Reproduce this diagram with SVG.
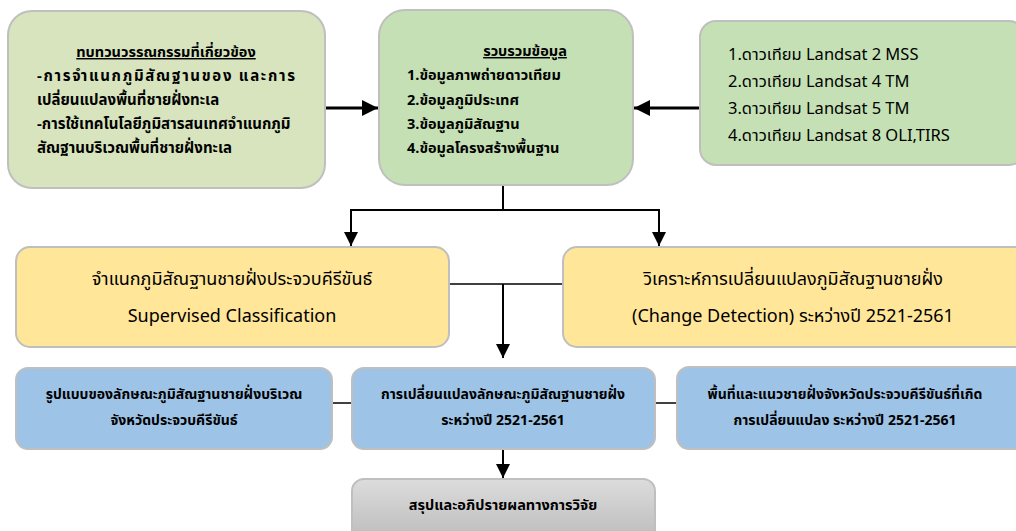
<svg xmlns="http://www.w3.org/2000/svg" width="1016" height="531" viewBox="0 0 1016 531">
<defs>
<style>
text{font-family:"Noto Sans Thai","Noto Sans","Tahoma","Liberation Sans",sans-serif;fill:#000}
.b{font-weight:bold}
.box{stroke:#bfbfbf;stroke-width:2}
.ln{fill:none;stroke:#000;stroke-width:2}
.thick{fill:none;stroke:#000;stroke-width:3}
</style>
<marker id="ah" viewBox="0 0 10 10" refX="10" refY="5" markerWidth="14" markerHeight="14" markerUnits="userSpaceOnUse" orient="auto">
<path d="M0,0 L10,5 L0,10 z" fill="#000"/>
</marker>
<marker id="ah2" viewBox="0 0 10 10" refX="10" refY="5" markerWidth="16" markerHeight="16" markerUnits="userSpaceOnUse" orient="auto">
<path d="M0,0 L10,5 L0,10 z" fill="#000"/>
</marker>
<linearGradient id="gray" x1="0" y1="0" x2="0" y2="1">
<stop offset="0" stop-color="#dcdcdc"/>
<stop offset="1" stop-color="#b8b8b8"/>
</linearGradient>
</defs>
<rect width="1016" height="531" fill="#fff"/>

<g id="connectors">
<line class="thick" x1="326" y1="108" x2="378" y2="108" marker-end="url(#ah2)"/>
<line class="thick" x1="700" y1="108" x2="634" y2="108" marker-end="url(#ah2)"/>
<polyline class="ln" points="503,186 503,210"/>
<polyline class="ln" points="351,210 659,210"/>
<line class="ln" x1="351" y1="209" x2="351" y2="246" marker-end="url(#ah)"/>
<line class="ln" x1="659" y1="209" x2="659" y2="246" marker-end="url(#ah)"/>
<line class="ln" x1="449" y1="284" x2="563" y2="284" style="stroke-width:1.5"/>
<line class="ln" x1="503" y1="284" x2="503" y2="358" marker-end="url(#ah)"/>
<line class="ln" x1="332" y1="403" x2="352" y2="403" style="stroke-width:1.5"/>
<line class="ln" x1="655" y1="403" x2="677" y2="403" style="stroke-width:1.5"/>
<line class="ln" x1="503" y1="449" x2="503" y2="478" marker-end="url(#ah)"/>
</g>

<g id="n-review">
<rect class="box" x="8" y="11" width="317" height="177" rx="24" fill="#d7e4bd"/>
<text class="b" x="166" y="57" font-size="14.5" text-anchor="middle" text-decoration="underline">ทบทวนวรรณกรรมที่เกี่ยวข้อง</text>
<text class="b" x="37" y="81" font-size="15" textLength="258" lengthAdjust="spacing">-การจำแนกภูมิสัณฐานของ และการ</text>
<text class="b" x="37" y="105" font-size="15">เปลี่ยนแปลงพื้นที่ชายฝั่งทะเล</text>
<text class="b" x="37" y="129" font-size="15">-การใช้เทคโนโลยีภูมิสารสนเทศจำแนกภูมิ</text>
<text class="b" x="37" y="153" font-size="15">สัณฐานบริเวณพื้นที่ชายฝั่งทะเล</text>
</g>

<g id="n-collect">
<rect class="box" x="379" y="10" width="254" height="175" rx="26" fill="#c5e0b4"/>
<text class="b" x="525" y="56" font-size="14.5" text-anchor="middle" text-decoration="underline">รวบรวมข้อมูล</text>
<text class="b" x="407" y="80" font-size="14.5">1.ข้อมูลภาพถ่ายดาวเทียม</text>
<text class="b" x="407" y="105" font-size="14.5">2.ข้อมูลภูมิประเทศ</text>
<text class="b" x="407" y="129" font-size="14.5">3.ข้อมูลภูมิสัณฐาน</text>
<text class="b" x="407" y="153" font-size="14.5">4.ข้อมูลโครงสร้างพื้นฐาน</text>
</g>

<g id="n-satellite">
<rect class="box" x="700" y="21" width="325" height="144" rx="16" fill="#c5e0b4"/>
<text x="728" y="60" font-size="16.5">1.ดาวเทียม Landsat 2 MSS</text>
<text x="728" y="87" font-size="16.5">2.ดาวเทียม Landsat 4 TM</text>
<text x="728" y="114" font-size="16.5">3.ดาวเทียม Landsat 5 TM</text>
<text x="728" y="141" font-size="16.5">4.ดาวเทียม Landsat 8 OLI,TIRS</text>
</g>

<g id="n-classify">
<rect class="box" x="16" y="247" width="433" height="100" rx="14" fill="#ffe699"/>
<text x="232" y="285" font-size="18" text-anchor="middle">จำแนกภูมิสัณฐานชายฝั่งประจวบคีรีขันธ์</text>
<text x="232" y="322" font-size="18" text-anchor="middle">Supervised Classification</text>
</g>

<g id="n-change">
<rect class="box" x="563" y="247" width="470" height="100" rx="14" fill="#ffe699"/>
<text x="793" y="285" font-size="18" text-anchor="middle">วิเคราะห์การเปลี่ยนแปลงภูมิสัณฐานชายฝั่ง</text>
<text x="793" y="322" font-size="18" text-anchor="middle">(Change Detection) ระหว่างปี 2521-2561</text>
</g>

<g id="n-pattern">
<rect class="box" x="16" y="368" width="316" height="81" rx="12" fill="#9dc3e6"/>
<text class="b" x="174" y="399" font-size="14" text-anchor="middle">รูปแบบของลักษณะภูมิสัณฐานชายฝั่งบริเวณ</text>
<text class="b" x="174" y="425" font-size="14" text-anchor="middle">จังหวัดประจวบคีรีขันธ์</text>
</g>

<g id="n-changes">
<rect class="box" x="352" y="368" width="303" height="81" rx="12" fill="#9dc3e6"/>
<text class="b" x="503" y="399" font-size="14" text-anchor="middle">การเปลี่ยนแปลงลักษณะภูมิสัณฐานชายฝั่ง</text>
<text class="b" x="503" y="425" font-size="14" text-anchor="middle">ระหว่างปี 2521-2561</text>
</g>

<g id="n-area">
<rect class="box" x="677" y="367" width="350" height="82" rx="12" fill="#9dc3e6"/>
<text class="b" x="845" y="399" font-size="14" text-anchor="middle">พื้นที่และแนวชายฝั่งจังหวัดประจวบคีรีขันธ์ที่เกิด</text>
<text class="b" x="845" y="425" font-size="14" text-anchor="middle">การเปลี่ยนแปลง ระหว่างปี 2521-2561</text>
</g>

<g id="n-conclude">
<rect class="box" x="352" y="479" width="303" height="70" rx="12" fill="url(#gray)"/>
<text class="b" x="503" y="510" font-size="14.5" text-anchor="middle">สรุปและอภิปรายผลทางการวิจัย</text>
</g>
</svg>
